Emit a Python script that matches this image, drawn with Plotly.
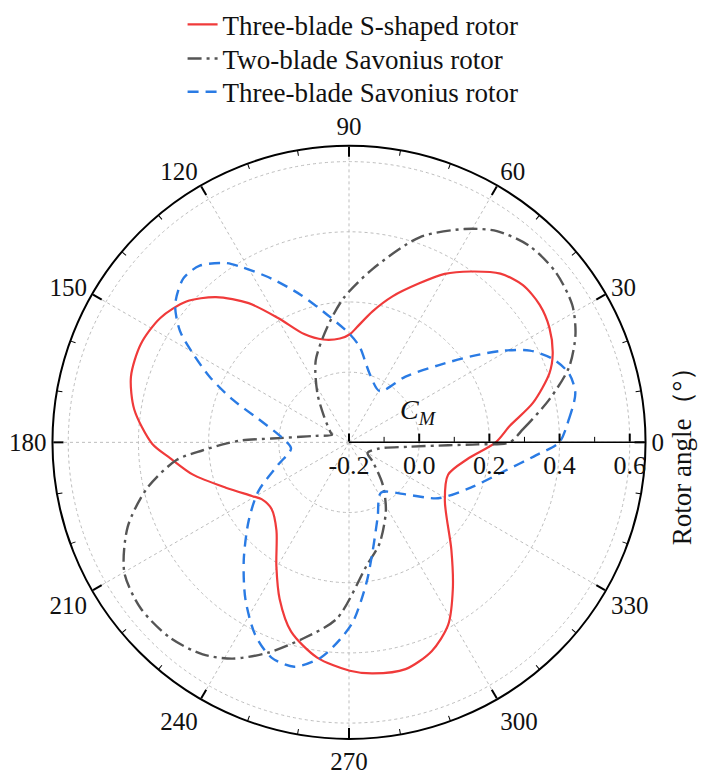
import plotly.graph_objects as go

# ---------------- data ----------------
red_theta = [0, 5.9, 12.1, 19.0, 23.5, 29.8, 35.8, 42.1, 48.1, 54.5, 60.4, 66.3, 73.4, 79.7,
             86.2, 89.5, 95.0, 104.0, 112.5, 119.7, 125.8, 132.5, 139.1, 146.6, 154.7, 163.2,
             171.3, 180.4, 185.1, 191.7, 200.2, 208.9, 213.0, 220.7, 230.5, 239.6, 246.1, 253.0,
             261.6, 270.2, 275.9, 284.0, 291.6, 298.5, 305.3, 313.6, 328.6, 341.9, 352.0, 360]
red_r = [0.218, 0.261, 0.336, 0.404, 0.433, 0.458, 0.470, 0.468, 0.446, 0.398, 0.352, 0.294,
         0.234, 0.180, 0.128, 0.108, 0.097, 0.102, 0.134, 0.208, 0.289, 0.361, 0.413, 0.444,
         0.456, 0.449, 0.419, 0.361, 0.311, 0.254, 0.174, 0.116, 0.097, 0.091, 0.125, 0.209,
         0.288, 0.364, 0.420, 0.451, 0.462, 0.466, 0.440, 0.392, 0.312, 0.223, 0.120, 0.097,
         0.141, 0.218]

gray_theta = [0, 4.4, 12.1, 18.9, 25.5, 31.6, 39.5, 47.4, 55.0, 61.6, 71.0, 82.2, 92.2, 100.8,
              112.1, 122.7, 133.6, 151.5, 156.0, 169.0, 173.4, 177.2, 178.9, 180.6, 183.1, 185.8,
              192.7, 200.9, 210.1, 218.6, 227.6, 235.4, 241.7, 249.0, 257.1, 266.1, 278.0, 286.8,
              298.4, 308.6, 321.0, 330.0, 348.5, 355.8, 358.3, 359.1, 360]
gray_r = [0.257, 0.298, 0.384, 0.463, 0.515, 0.547, 0.563, 0.560, 0.535, 0.491, 0.418, 0.299,
          0.211, 0.133, 0.052, -0.033, -0.096, -0.140, -0.147, -0.103, -0.062, 0.021, 0.104,
          0.151, 0.217, 0.293, 0.389, 0.475, 0.540, 0.559, 0.555, 0.534, 0.500, 0.442, 0.372,
          0.303, 0.156, 0.101, 0.021, -0.046, -0.113, -0.139, -0.112, -0.029, 0.082, 0.166,
          0.257]

blue_theta = [0, 6.0, 12.3, 17.4, 22.3, 26.9, 30.7, 35.2, 40.8, 49.3, 59.0, 73.4, 83.5, 89.5,
              99.7, 108.1, 115.3, 121.4, 124.5, 130.2, 135.3, 141.6, 146.6, 150.4, 154.8, 159.8,
              165.6, 175.6, 186.1, 197.6, 208.3, 217.9, 228.1, 236.5, 244.0, 250.2, 256.3, 262.5,
              267.4, 271.3, 277.1, 282.5, 291.0, 302.5, 317.4, 327.9, 339.6, 349.3, 356.1, 360]
blue_r = [0.399, 0.430, 0.460, 0.457, 0.427, 0.378, 0.312, 0.225, 0.136, 0.047, -0.030, 0.005,
          0.073, 0.108, 0.169, 0.242, 0.316, 0.385, 0.420, 0.459, 0.464, 0.432, 0.377, 0.311,
          0.239, 0.154, 0.066, -0.007, -0.034, 0.012, 0.093, 0.162, 0.249, 0.335, 0.410, 0.452,
          0.458, 0.419, 0.362, 0.311, 0.203, 0.114, 0.028, -0.030, 0.019, 0.100, 0.170, 0.248,
          0.335, 0.399]

series_names = ["Three-blade S-shaped rotor", "Two-blade Savonius rotor",
                "Three-blade Savonius rotor"]

r_ticks = [-0.2, 0.0, 0.2, 0.4, 0.6]
r_tick_text = ["-0.2", "0.0", "0.2", "0.4", "0.6"]
r_minor = [-0.1, 0.1, 0.3, 0.5]
r_range = [-0.2, 0.645]
angle_ticks = list(range(0, 360, 30))
angle_minor = [a for a in range(0, 360, 10) if a % 30 != 0]

# ---------------- figure ----------------
FONT = "Liberation Serif, Times New Roman, serif"
TXT = "#111111"

fig = go.Figure()
fig.add_trace(go.Scatterpolar(r=red_r, theta=red_theta, mode="lines", name=series_names[0],
                              legend="legend",
                              line=dict(color="#F03A3A", width=2.2, shape="spline", smoothing=0.8)))
fig.add_trace(go.Scatterpolar(r=gray_r, theta=gray_theta, mode="lines", name=series_names[1],
                              legend="legend2",
                              line=dict(color="#555555", width=2.4, dash="14px,5px,3px,5px",
                                        shape="spline", smoothing=0.8)))
fig.add_trace(go.Scatterpolar(r=blue_r, theta=blue_theta, mode="lines", name=series_names[2],
                              legend="legend3",
                              line=dict(color="#2A7BE4", width=2.4, dash="11px,7px",
                                        shape="spline", smoothing=0.8)))
fig.add_trace(go.Scatterpolar(r=[None], theta=[None], subplot="polar2", showlegend=False,
                              hoverinfo="skip"))

domain = dict(x=[45 / 716, 653 / 716], y=[1 - 738 / 774, 1 - 130 / 774])

legend_style = dict(x=0.255, xanchor="left", yanchor="middle", bgcolor="rgba(0,0,0,0)",
                    font=dict(family=FONT, size=27, color=TXT))

fig.update_layout(
    width=716, height=774,
    margin=dict(l=0, r=0, t=0, b=0),
    paper_bgcolor="white",
    font=dict(family=FONT, size=26, color=TXT),
    polar=dict(
        domain=domain,
        bgcolor="white",
        radialaxis=dict(range=r_range, angle=0, tickangle=0, side="clockwise",
                        tickvals=r_ticks, ticktext=r_tick_text,
                        ticks="inside", ticklen=8, tickwidth=1.5, tickcolor="black",
                        showline=True, linecolor="black", linewidth=1.5,
                        showgrid=True, gridcolor="#BDBDBD", griddash="dot", gridwidth=1,
                        tickfont=dict(family=FONT, size=26, color=TXT)),
        angularaxis=dict(rotation=0, direction="counterclockwise",
                         tickvals=angle_ticks, ticks="inside", ticklen=10, tickwidth=1.5,
                         tickcolor="black", showline=True, linecolor="black", linewidth=2,
                         showgrid=True, gridcolor="#BDBDBD", griddash="dot", gridwidth=1,
                         tickfont=dict(family=FONT, size=25, color=TXT)),
    ),
    polar2=dict(
        domain=domain,
        bgcolor="rgba(0,0,0,0)",
        radialaxis=dict(range=r_range, angle=0, side="clockwise", tickvals=r_minor,
                        ticks="inside", ticklen=5, tickwidth=1.2, tickcolor="black",
                        showticklabels=False, showline=False, showgrid=False),
        angularaxis=dict(rotation=0, direction="counterclockwise", tickvals=angle_minor,
                         ticks="inside", ticklen=5, tickwidth=1.2, tickcolor="black",
                         showticklabels=False, showline=False, showgrid=False),
    ),
    legend=dict(y=1 - 6 / 774, **legend_style),
    legend2=dict(y=1 - 41 / 774, **legend_style),
    legend3=dict(y=1 - 75 / 774, **legend_style),
    annotations=[
        dict(text="<i>C</i><sub><i>M</i></sub>", x=418 / 716, y=1 - 402 / 774,
             xref="paper", yref="paper", showarrow=False,
             font=dict(family=FONT, size=28, color=TXT)),
        dict(text="Rotor angle（°）", x=699 / 716, y=1 - 441 / 774, xref="paper", yref="paper",
             textangle=-90, showarrow=False,
             font=dict(family=FONT, size=27, color=TXT)),
    ],
)

fig.write_html("out.html")
